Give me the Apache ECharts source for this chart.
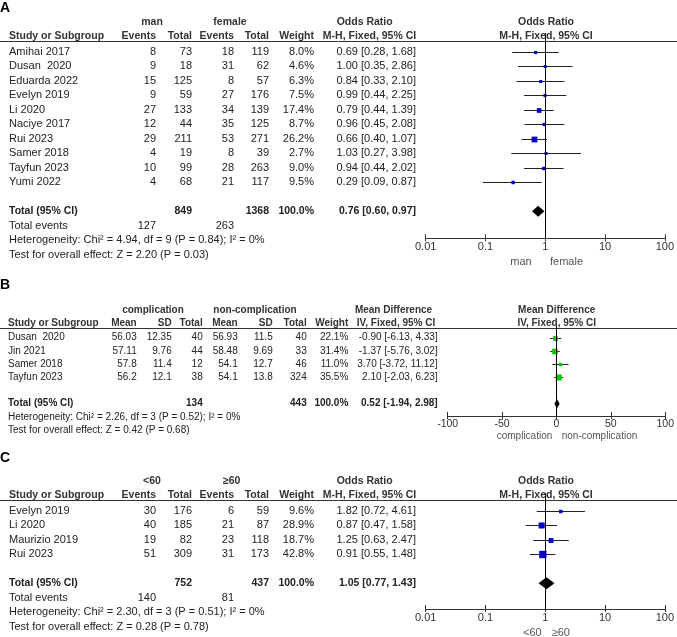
<!DOCTYPE html>
<html><head><meta charset="utf-8">
<script src="https://cdn.jsdelivr.net/npm/echarts@6/dist/echarts.min.js"></script>
<style>html,body{margin:0;padding:0;background:#fff}#c{width:677px;height:637px}</style>
</head><body><div id="c"></div>
<script>
// ---------- Panel A data (man vs female) ----------
const studiesA = ['Amihai 2017','Dusan  2020','Eduarda 2022','Evelyn 2019','Li 2020','Naciye 2017','Rui 2023','Samer 2018','Tayfun 2023','Yumi 2022'];
const manEvents = [8,9,15,9,27,12,29,4,10,4];
const manTotal  = [73,18,125,59,133,44,211,19,99,68];
const femEvents = [18,31,8,27,34,35,53,8,28,21];
const femTotal  = [119,62,57,176,139,125,271,39,263,117];
const weightA = [8.0,4.6,6.3,7.5,17.4,8.7,26.2,2.7,9.0,9.5];
const orA = [0.69,1.00,0.84,0.99,0.79,0.96,0.66,1.03,0.94,0.29];
const loA = [0.28,0.35,0.33,0.44,0.44,0.45,0.40,0.27,0.44,0.09];
const hiA = [1.68,2.86,2.10,2.25,1.39,2.08,1.07,3.98,2.02,0.87];
const totalA = [0.76,0.60,0.97];
const hetA = 'Heterogeneity: Chi\u00b2 = 4.94, df = 9 (P = 0.84); I\u00b2 = 0%';
const testA = 'Test for overall effect: Z = 2.20 (P = 0.03)';

// ---------- Panel B data (complication vs non-complication) ----------
const studiesB = ['Dusan  2020','Jin 2021','Samer 2018','Tayfun 2023'];
const compMean = ['56.03','57.11','57.8','56.2'];
const compSD   = ['12.35','9.76','11.4','12.1'];
const compTotal = [40,44,12,38];
const nonMean = ['56.93','58.48','54.1','54.1'];
const nonSD   = ['11.5','9.69','12.7','13.8'];
const nonTotal = [40,33,46,324];
const weightB = [22.1,31.4,11.0,35.5];
const mdB = [-0.90,-1.37,3.70,2.10];
const loB = [-6.13,-5.76,-3.72,-2.03];
const hiB = [4.33,3.02,11.12,6.23];
const totalB = [0.52,-1.94,2.98];
const hetB = 'Heterogeneity: Chi\u00b2 = 2.26, df = 3 (P = 0.52); I\u00b2 = 0%';
const testB = 'Test for overall effect: Z = 0.42 (P = 0.68)';

// ---------- Panel C data (<60 vs >=60) ----------
const studiesC = ['Evelyn 2019','Li 2020','Maurizio 2019','Rui 2023'];
const youngEvents = [30,40,19,51];
const youngTotal  = [176,185,82,309];
const oldEvents = [6,21,23,31];
const oldTotal  = [59,87,118,173];
const weightC = [9.6,28.9,18.7,42.8];
const orC = [1.82,0.87,1.25,0.91];
const loC = [0.72,0.47,0.63,0.55];
const hiC = [4.61,1.58,2.47,1.48];
const totalC = [1.05,0.77,1.43];
const hetC = 'Heterogeneity: Chi\u00b2 = 2.30, df = 3 (P = 0.51); I\u00b2 = 0%';
const testC = 'Test for overall effect: Z = 0.28 (P = 0.78)';

// ---------- layout ----------
const FONT = '"Liberation Sans", Arial, Helvetica, sans-serif';
const sum = a => a.reduce((s,v)=>s+v,0);
const f2 = v => v.toFixed(2);
const ci = (e,l,h) => f2(e)+' ['+f2(l)+', '+f2(h)+']';
const G = [];
function T(x,y,s,align,o){ o=o||{}; G.push({type:'text',x:x,y:y,silent:true,z:10,
  style:{text:String(s),fill:o.color||'#222',font:(o.bold?'bold ':'')+(o.size||11)+'px '+FONT,align:align||'left',verticalAlign:'middle'}}); }
function HL(y){ G.push({type:'line',silent:true,shape:{x1:0,y1:y,x2:677,y2:y},style:{stroke:'#333',lineWidth:1}}); }
const B = {bold:true,size:10.5,color:'#333'};

// panel geometry
const PA = {y0:51.7, step:14.5, top:33, axisY:238.3};
const PB = {y0:337.7, step:13.2, top:323, axisY:416};
const PC = {y0:510.7, step:14.5, top:493, axisY:609};
const rowY = (P,i) => P.y0 + P.step*i;
const yMin = P => -(P.y0-P.top)/P.step;
const yMax = P => yMin(P) + (P.axisY-P.top)/P.step;

// ---- Panel A table ----
T(0,8,'A','left',{bold:true,size:14,color:'#000'});
T(152,22,'man','center',B); T(230,22,'female','center',B); T(364.7,22,'Odds Ratio','center',B); T(546,22,'Odds Ratio','center',B);
T(9,36,'Study or Subgroup','left',B); T(156,36,'Events','right',B); T(192,36,'Total','right',B);
T(234,36,'Events','right',B); T(269,36,'Total','right',B); T(314,36,'Weight','right',B);
T(369.5,36,'M-H, Fixed, 95% CI','center',B); T(546,36,'M-H, Fixed, 95% CI','center',B);
HL(41.5);
studiesA.forEach((s,i)=>{ const y=rowY(PA,i);
  T(9,y,s); T(156,y,manEvents[i],'right'); T(192,y,manTotal[i],'right'); T(234,y,femEvents[i],'right');
  T(269,y,femTotal[i],'right'); T(314,y,weightA[i].toFixed(1)+'%','right'); T(416,y,ci(orA[i],loA[i],hiA[i]),'right'); });
{ let y=rowY(PA,11); const b={bold:true,size:10.5,color:'#222'};
  T(9,y,'Total (95% CI)','left',b); T(192,y,sum(manTotal),'right',b); T(269,y,sum(femTotal),'right',b);
  T(314,y,'100.0%','right',b); T(416,y,ci(totalA[0],totalA[1],totalA[2]),'right',b);
  y=rowY(PA,12); T(9,y,'Total events'); T(156,y,sum(manEvents),'right'); T(234,y,sum(femEvents),'right');
  T(9,rowY(PA,13),hetA); T(9,rowY(PA,14),testA); }
T(531.7,261.7,'man','right',{color:'#555'}); T(550,261.7,'female','left',{color:'#555'});

// ---- Panel B table ----
const Bs = {bold:true,size:10,color:'#333'};
T(0,285,'B','left',{bold:true,size:14,color:'#000'});
T(153,310.7,'complication','center',Bs); T(255,310.7,'non-complication','center',Bs);
T(393.5,310.7,'Mean Difference','center',Bs); T(556.7,310.7,'Mean Difference','center',Bs);
T(8,323.3,'Study or Subgroup','left',Bs); T(136.7,323.3,'Mean','right',Bs); T(171.7,323.3,'SD','right',Bs);
T(202.7,323.3,'Total','right',Bs); T(237.7,323.3,'Mean','right',Bs); T(272.7,323.3,'SD','right',Bs);
T(306.7,323.3,'Total','right',Bs); T(348.3,323.3,'Weight','right',Bs);
T(396,323.3,'IV, Fixed, 95% CI','center',Bs); T(556.7,323.3,'IV, Fixed, 95% CI','center',Bs);
HL(328.5);
const r10 = {size:10};
studiesB.forEach((s,i)=>{ const y=rowY(PB,i);
  T(8,y,s,'left',r10); T(136.7,y,compMean[i],'right',r10); T(171.7,y,compSD[i],'right',r10); T(202.7,y,compTotal[i],'right',r10);
  T(237.7,y,nonMean[i],'right',r10); T(272.7,y,nonSD[i],'right',r10); T(306.7,y,nonTotal[i],'right',r10);
  T(348.3,y,weightB[i].toFixed(1)+'%','right',r10); T(437.7,y,ci(mdB[i],loB[i],hiB[i]),'right',r10); });
{ let y=rowY(PB,5); const b={bold:true,size:10,color:'#222'};
  T(8,y,'Total (95% CI)','left',b); T(202.7,y,sum(compTotal),'right',b); T(306.7,y,sum(nonTotal),'right',b);
  T(348.3,y,'100.0%','right',b); T(437.7,y,ci(totalB[0],totalB[1],totalB[2]),'right',b);
  T(8,rowY(PB,6),hetB,'left',r10); T(8,rowY(PB,7),testB,'left',r10); }
T(552.3,436.7,'complication','right',{size:10,color:'#555'}); T(561.7,436.7,'non-complication','left',{size:10,color:'#555'});

// ---- Panel C table ----
T(0,458,'C','left',{bold:true,size:14,color:'#000'});
T(152,480.7,'<60','center',B); T(231.7,480.7,'\u226560','center',B); T(364.7,480.7,'Odds Ratio','center',B); T(546,480.7,'Odds Ratio','center',B);
T(9,495,'Study or Subgroup','left',B); T(156,495,'Events','right',B); T(192,495,'Total','right',B);
T(234,495,'Events','right',B); T(269,495,'Total','right',B); T(314,495,'Weight','right',B);
T(369.5,495,'M-H, Fixed, 95% CI','center',B); T(546,495,'M-H, Fixed, 95% CI','center',B);
HL(500.5);
studiesC.forEach((s,i)=>{ const y=rowY(PC,i);
  T(9,y,s); T(156,y,youngEvents[i],'right'); T(192,y,youngTotal[i],'right'); T(234,y,oldEvents[i],'right');
  T(269,y,oldTotal[i],'right'); T(314,y,weightC[i].toFixed(1)+'%','right'); T(416,y,ci(orC[i],loC[i],hiC[i]),'right'); });
{ let y=rowY(PC,5); const b={bold:true,size:10.5,color:'#222'};
  T(9,y,'Total (95% CI)','left',b); T(192,y,sum(youngTotal),'right',b); T(269,y,sum(oldTotal),'right',b);
  T(314,y,'100.0%','right',b); T(416,y,ci(totalC[0],totalC[1],totalC[2]),'right',b);
  y=rowY(PC,6); T(9,y,'Total events'); T(156,y,sum(youngEvents),'right'); T(234,y,sum(oldEvents),'right');
  T(9,rowY(PC,7),hetC); T(9,rowY(PC,8),testC); }
T(541.7,632.7,'<60','right',{color:'#555'}); T(551.7,632.7,'\u226560','left',{color:'#555'});

// ---------- renderers ----------
function boxRenderer(color,k){ return function(params,api){
  const e=api.value(0), l=api.value(1), h=api.value(2), r=api.value(3), w=api.value(4);
  const a=api.coord([l,r]), b=api.coord([h,r]), c=api.coord([e,r]);
  const s=Math.max(3,k*Math.sqrt(w)); const yy=Math.round(c[1])+0.5;
  return {type:'group',children:[
    {type:'line',shape:{x1:a[0],y1:yy,x2:b[0],y2:yy},style:{stroke:'#222',lineWidth:1}},
    {type:'rect',shape:{x:c[0]-s/2,y:yy-s/2,width:s,height:s},style:{fill:color}}]};
};}
function diamondRenderer(hgt){ return function(params,api){
  const e=api.value(0), l=api.value(1), h=api.value(2), r=api.value(3);
  const a=api.coord([l,r]), b=api.coord([h,r]), c=api.coord([e,r]);
  return {type:'polygon',shape:{points:[[a[0],c[1]],[c[0],c[1]-hgt/2],[b[0],c[1]],[c[0],c[1]+hgt/2]]},style:{fill:'#000'}};
};}
const fmtLog = v => String(parseFloat(Number(v).toPrecision(6)));
function xAx(idx,type,extra,size){ return Object.assign({gridIndex:idx,type:type,
  axisLine:{show:true,onZero:false,lineStyle:{color:'#333',width:1}},
  axisTick:{show:true,inside:false,length:3,lineStyle:{color:'#333'}},
  axisLabel:{color:'#333',fontSize:size,fontFamily:FONT,margin:3,formatter:type==='log'?fmtLog:null},
  splitLine:{show:false}},extra); }
// companion axis: upward half of each tick
function xTickUp(idx,type,extra){ return Object.assign({gridIndex:idx,type:type,position:'bottom',
  axisLine:{show:false,onZero:false},axisTick:{show:true,inside:true,length:4,lineStyle:{color:'#333'}},
  axisLabel:{show:false},splitLine:{show:false}},extra); }
function yAx(idx,P){ return {gridIndex:idx,type:'value',inverse:true,min:yMin(P),max:yMax(P),show:false}; }
function refLine(idx,x){ return {type:'line',xAxisIndex:idx,yAxisIndex:idx,data:[],z:1,silent:true,
  markLine:{silent:true,symbol:'none',animation:false,label:{show:false},lineStyle:{color:'#000',width:1,type:'solid'},data:[{xAxis:x}]}}; }
const studyData = (e,l,h,w) => e.map((v,i)=>[v,l[i],h[i],i,w[i]]);
const logExt = {logBase:10,min:0.01,max:100};
const linExt = {min:-100,max:100,interval:50};

const option = {
  animation:false,
  grid:[
    {left:425.7,width:241.6,top:PA.top,height:PA.axisY-PA.top},
    {left:447.7,width:220,top:PB.top,height:PB.axisY-PB.top},
    {left:425.7,width:241.6,top:PC.top,height:PC.axisY-PC.top}],
  xAxis:[
    xAx(0,'log',logExt,11),
    xAx(1,'value',linExt,10.5),
    xAx(2,'log',logExt,11),
    xTickUp(0,'log',logExt),
    xTickUp(1,'value',linExt),
    xTickUp(2,'log',logExt)],
  yAxis:[yAx(0,PA),yAx(1,PB),yAx(2,PC)],
  graphic:{elements:G},
  series:[
    refLine(0,1), refLine(1,0), refLine(2,1),
    {type:'custom',xAxisIndex:0,yAxisIndex:0,z:3,renderItem:boxRenderer('#0000cc',1.12),encode:{x:[0,1,2],y:3},data:studyData(orA,loA,hiA,weightA)},
    {type:'custom',xAxisIndex:0,yAxisIndex:0,z:3,renderItem:diamondRenderer(11),encode:{x:[0,1,2],y:3},data:[[totalA[0],totalA[1],totalA[2],11]]},
    {type:'custom',xAxisIndex:1,yAxisIndex:1,z:3,renderItem:boxRenderer('#00cc00',1.0),encode:{x:[0,1,2],y:3},data:studyData(mdB,loB,hiB,weightB)},
    {type:'custom',xAxisIndex:1,yAxisIndex:1,z:3,renderItem:diamondRenderer(9),encode:{x:[0,1,2],y:3},data:[[totalB[0],totalB[1],totalB[2],5]]},
    {type:'custom',xAxisIndex:2,yAxisIndex:2,z:3,renderItem:boxRenderer('#0000cc',1.12),encode:{x:[0,1,2],y:3},data:studyData(orC,loC,hiC,weightC)},
    {type:'custom',xAxisIndex:2,yAxisIndex:2,z:3,renderItem:diamondRenderer(12),encode:{x:[0,1,2],y:3},data:[[totalC[0],totalC[1],totalC[2],5]]}
  ]
};
echarts.init(document.getElementById('c')).setOption(option);
</script></body></html>
